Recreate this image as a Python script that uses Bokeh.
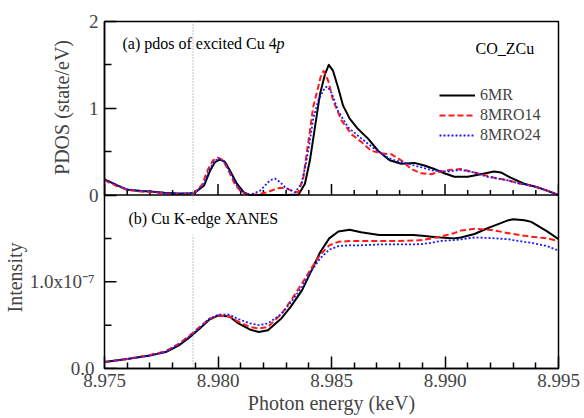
import numpy as np
from bokeh.plotting import figure
from bokeh.models import Range1d, FixedTicker, PrintfTickFormatter, Span, Label, LinearAxis
from bokeh.embed import file_html
from bokeh.resources import INLINE

# ---------------- data ----------------
# (a) PDOS of excited Cu 4p  [state/eV]
e_6mr = [8.97500, 8.97557, 8.97601, 8.97658, 8.97702, 8.97763, 8.97820, 8.97877, 8.97899,
         8.97939, 8.97965, 8.97987, 8.98009, 8.98031, 8.98053, 8.98083, 8.98114, 8.98140,
         8.98200, 8.98300, 8.98355, 8.98383, 8.98405, 8.98427, 8.98449, 8.98471, 8.98488,
         8.98507, 8.98529, 8.98551, 8.98580, 8.98617, 8.98661, 8.98705, 8.98756, 8.98807,
         8.98865, 8.98909, 8.98953, 8.98997, 8.99041, 8.99100, 8.99158, 8.99216, 8.99246,
         8.99289, 8.99348, 8.99407, 8.99450, 8.99500]
pdos_6mr = [0.18, 0.11, 0.06, 0.045, 0.04, 0.025, 0.017, 0.02, 0.03,
            0.11, 0.28, 0.38, 0.41, 0.38, 0.28, 0.13, 0.03, 0.0,
            0.0, 0.0, 0.005, 0.13, 0.40, 0.78, 1.16, 1.39, 1.50,
            1.43, 1.24, 1.03, 0.88, 0.76, 0.65, 0.51, 0.40, 0.36,
            0.37, 0.34, 0.30, 0.25, 0.21, 0.21, 0.24, 0.27, 0.26,
            0.20, 0.13, 0.09, 0.05, 0.0]

e_14 = [8.97500, 8.97557, 8.97601, 8.97658, 8.97702, 8.97763, 8.97820, 8.97877, 8.97899,
        8.97930, 8.97955, 8.97978, 8.98000, 8.98022, 8.98045, 8.98075, 8.98105, 8.98140,
        8.98180, 8.98215, 8.98245, 8.98270, 8.98295, 8.98325, 8.98354, 8.98376, 8.98390,
        8.98405, 8.98419, 8.98441, 8.98452, 8.98465, 8.98485, 8.98507, 8.98544, 8.98588,
        8.98632, 8.98675, 8.98719, 8.98763, 8.98807, 8.98851, 8.98895, 8.98939, 8.98982,
        8.99026, 8.99070, 8.99114, 8.99158, 8.99216, 8.99275, 8.99333, 8.99392, 8.99450,
        8.99500]
pdos_14 = [0.17, 0.10, 0.06, 0.04, 0.035, 0.02, 0.012, 0.015, 0.03,
           0.12, 0.29, 0.40, 0.43, 0.40, 0.29, 0.12, 0.03, 0.0,
           0.01, 0.03, 0.06, 0.08, 0.08, 0.05, 0.03, 0.20, 0.47,
           0.74, 1.01, 1.24, 1.36, 1.43, 1.32, 1.09, 0.86, 0.70,
           0.61, 0.51, 0.48, 0.47, 0.40, 0.30, 0.25, 0.24, 0.27,
           0.29, 0.30, 0.27, 0.24, 0.20, 0.17, 0.13, 0.10, 0.05,
           0.0]

e_24 = [8.97500, 8.97557, 8.97601, 8.97658, 8.97702, 8.97763, 8.97820, 8.97877, 8.97899,
        8.97935, 8.97960, 8.97983, 8.98005, 8.98027, 8.98050, 8.98080, 8.98110, 8.98140,
        8.98186, 8.98229, 8.98251, 8.98273, 8.98295, 8.98339, 8.98368, 8.98390, 8.98405,
        8.98420, 8.98442, 8.98471, 8.98482, 8.98500, 8.98529, 8.98573, 8.98632, 8.98690,
        8.98749, 8.98778, 8.98836, 8.98895, 8.98953, 8.99012, 8.99070, 8.99129, 8.99187,
        8.99275, 8.99333, 8.99392, 8.99450, 8.99500]
pdos_24 = [0.18, 0.11, 0.065, 0.05, 0.04, 0.025, 0.015, 0.02, 0.03,
           0.11, 0.28, 0.39, 0.42, 0.39, 0.28, 0.12, 0.03, 0.0,
           0.05, 0.17, 0.19, 0.15, 0.09, 0.03, 0.13, 0.40, 0.63,
           0.89, 1.09, 1.24, 1.25, 1.18, 0.97, 0.78, 0.65, 0.53,
           0.43, 0.40, 0.36, 0.32, 0.28, 0.27, 0.29, 0.26, 0.21,
           0.17, 0.13, 0.10, 0.05, 0.0]

# (b) Cu K-edge XANES intensity, in units of 1e-7
e_xanes = [8.9750, 8.9760, 8.9770, 8.9777, 8.9783, 8.9787, 8.9792, 8.9796, 8.9800, 8.9805,
           8.9809, 8.9814, 8.9818, 8.9822, 8.9828, 8.9832, 8.9837, 8.9841, 8.9845, 8.9849,
           8.9853, 8.9858, 8.9863, 8.9871, 8.9880, 8.9886, 8.9890, 8.9894, 8.9898, 8.9904,
           8.9907, 8.9913, 8.9919, 8.9922, 8.9928, 8.9930, 8.9935, 8.9938, 8.9945, 8.9950]
xanes_6mr = [0.076, 0.11, 0.15, 0.19, 0.27, 0.35, 0.46, 0.56, 0.61, 0.60,
             0.52, 0.45, 0.42, 0.44, 0.58, 0.71, 0.90, 1.12, 1.34, 1.50,
             1.58, 1.60, 1.57, 1.54, 1.54, 1.54, 1.53, 1.52, 1.51, 1.50,
             1.51, 1.55, 1.62, 1.65, 1.71, 1.72, 1.71, 1.69, 1.58, 1.49]
xanes_14 = [0.076, 0.11, 0.155, 0.20, 0.29, 0.37, 0.48, 0.57, 0.61, 0.60,
            0.54, 0.48, 0.46, 0.48, 0.63, 0.78, 0.98, 1.15, 1.31, 1.42,
            1.46, 1.47, 1.47, 1.47, 1.47, 1.475, 1.48, 1.50, 1.52, 1.56,
            1.59, 1.61, 1.60, 1.59, 1.56, 1.55, 1.53, 1.52, 1.50, 1.47]
xanes_24 = [0.076, 0.11, 0.15, 0.195, 0.28, 0.36, 0.47, 0.57, 0.62, 0.62,
            0.57, 0.52, 0.50, 0.52, 0.63, 0.76, 0.94, 1.12, 1.27, 1.37,
            1.41, 1.42, 1.42, 1.43, 1.43, 1.43, 1.435, 1.45, 1.47, 1.48,
            1.49, 1.51, 1.505, 1.50, 1.49, 1.48, 1.46, 1.45, 1.41, 1.36]

series_names = ["6MR", "8MRO14", "8MRO24"]
edge_energy = 8.9789

# ticks / tick labels
x_major_ticks = [8.975, 8.980, 8.985, 8.990, 8.995]
x_minor_ticks = [8.976, 8.977, 8.978, 8.979, 8.981, 8.982, 8.983, 8.984,
                 8.986, 8.987, 8.988, 8.989, 8.991, 8.992, 8.993, 8.994]
pdos_ticks = [0, 1, 2]
pdos_tick_labels = ["0", "1", "2"]
pdos_minor = [0.5, 1.5]
xanes_ticks = [0, 1]
xanes_tick_labels = ["0.0", "1.0x10\u207b\u2077"]
xanes_minor = [0.5, 1.5]

# ---------------- figure ----------------
FONT = "Liberation Serif"
X_RANGE = (8.975, 8.995)
PDOS_RANGE = (-2, 2)     # top half of the frame holds PDOS 0..2
XANES_RANGE = (0, 4)     # bottom half holds intensity 0..2 (x1e-7)
NBSP = "\u00a0"

p = figure(width=584, height=418, output_backend="svg", toolbar_location=None,
           x_range=Range1d(*X_RANGE), y_range=Range1d(*PDOS_RANGE),
           y_axis_location=None,
           min_border_left=102, min_border_right=26, min_border_top=21, min_border_bottom=50)
p.extra_y_ranges = {"xanes": Range1d(*XANES_RANGE)}
p.xgrid.visible = False
p.ygrid.visible = False
p.outline_line_color = "black"
p.outline_line_width = 1.5
p.background_fill_color = "white"
p.border_fill_color = "white"

# x axis
xa = p.xaxis[0]
xa.ticker = FixedTicker(ticks=x_major_ticks, minor_ticks=x_minor_ticks)
xa.formatter = PrintfTickFormatter(format="%.3f")
xa.axis_label = "Photon energy (keV)"
xa.axis_label_text_font = FONT
xa.axis_label_text_font_size = "20px"
xa.axis_label_text_font_style = "normal"
xa.axis_label_standoff = 2
xa.major_label_text_font = FONT
xa.major_label_text_font_size = "19px"
xa.major_label_standoff = 5
xa.major_tick_in = 12
xa.major_tick_out = 0
xa.minor_tick_in = 6
xa.minor_tick_out = 0
xa.axis_line_width = 1.5
xa.major_tick_line_width = 1.5
xa.minor_tick_line_width = 1.5

# upper panel y axis (next to the frame): ticks, labels and title
ya = LinearAxis(bounds=(0, 2), ticker=FixedTicker(ticks=pdos_ticks, minor_ticks=pdos_minor),
                major_label_overrides={float(t): s for t, s in zip(pdos_ticks, pdos_tick_labels)},
                major_label_text_font=FONT, major_label_text_font_size="19px",
                major_label_standoff=6,
                axis_label=NBSP * 35 + "PDOS (state/eV)", axis_label_standoff=13,
                axis_label_text_font=FONT, axis_label_text_font_size="20px",
                axis_label_text_font_style="normal",
                major_tick_in=12, major_tick_out=0, minor_tick_in=7, minor_tick_out=0,
                axis_line_width=1.5, major_tick_line_width=1.5, minor_tick_line_width=1.5)
p.add_layout(ya, "left")

# lower panel y axis labels (outer axis, labels pulled back next to the frame)
yb = LinearAxis(y_range_name="xanes", bounds=(0, 2),
                ticker=FixedTicker(ticks=xanes_ticks, minor_ticks=[]),
                major_label_overrides={float(t): s for t, s in zip(xanes_ticks, xanes_tick_labels)},
                major_label_text_font=FONT, major_label_text_font_size="19px",
                major_label_standoff=-47,
                axis_label="Intensity" + NBSP * 33, axis_label_standoff=1,
                axis_label_text_font=FONT, axis_label_text_font_size="20px",
                axis_label_text_font_style="normal",
                major_tick_in=0, major_tick_out=0, minor_tick_in=0, minor_tick_out=0,
                axis_line_color=None, major_tick_line_color=None, minor_tick_line_color=None)
p.add_layout(yb, "left")

# lower panel y tick marks on the frame's left edge
p.ray(x=[X_RANGE[0]] * len(xanes_ticks), y=xanes_ticks, y_range_name="xanes",
      length=12, length_units="screen", angle=0, line_color="black", line_width=1.5)
p.ray(x=[X_RANGE[0]] * len(xanes_minor), y=xanes_minor, y_range_name="xanes",
      length=7, length_units="screen", angle=0, line_color="black", line_width=1.5)

# separator between the two panels, with inward ticks of the upper panel
p.add_layout(Span(location=0, dimension="width", line_color="black", line_width=1.5))
p.ray(x=x_major_ticks, y=[0] * len(x_major_ticks), length=11, length_units="screen",
      angle=np.pi / 2, line_color="black", line_width=1.5)
p.ray(x=x_minor_ticks, y=[0] * len(x_minor_ticks), length=5, length_units="screen",
      angle=np.pi / 2, line_color="black", line_width=1.5)

# edge marker
p.add_layout(Span(location=edge_energy, dimension="height", line_color="#8a8a8a",
                  line_width=1, line_dash="1 2"))

styles = [dict(line_color="black", line_width=2),
          dict(line_color="#ff1a1a", line_width=2, line_dash="6 3"),
          dict(line_color="#1a1aff", line_width=1.8, line_dash="2 2")]

for e, v, name, st in zip([e_6mr, e_14, e_24], [pdos_6mr, pdos_14, pdos_24], series_names, styles):
    p.line(e, v, legend_label=name, line_join="round", **st)
for v, st in zip([xanes_6mr, xanes_14, xanes_24], styles):
    p.line(e_xanes, v, y_range_name="xanes", line_join="round", **st)

lg = p.legend[0]
lg.location = (335, 223)
lg.padding = 0
lg.margin = 0
lg.spacing = 0
lg.glyph_width = 36
lg.glyph_height = 20
lg.label_height = 20
lg.label_standoff = 5
lg.label_text_font = FONT
lg.label_text_font_size = "16px"
lg.border_line_color = None
lg.background_fill_alpha = 0


# text annotations (screen units relative to the frame's lower-left corner)
def lab(text, x, y, size="16px", **kw):
    p.add_layout(Label(x=x, y=y, x_units="screen", y_units="screen", text=text,
                       text_font=FONT, text_font_size=size, text_baseline="middle",
                       text_color="black", **kw))


lab("(a) pdos of excited Cu 4", 18, 325)
lab("p", 172, 325, text_font_style="italic")
lab("CO_ZCu", 371, 320)
lab("(b) Cu K-edge XANES", 16, 150, background_fill_color="white", padding=8)

open("out.html", "w").write(file_html(p, INLINE))
